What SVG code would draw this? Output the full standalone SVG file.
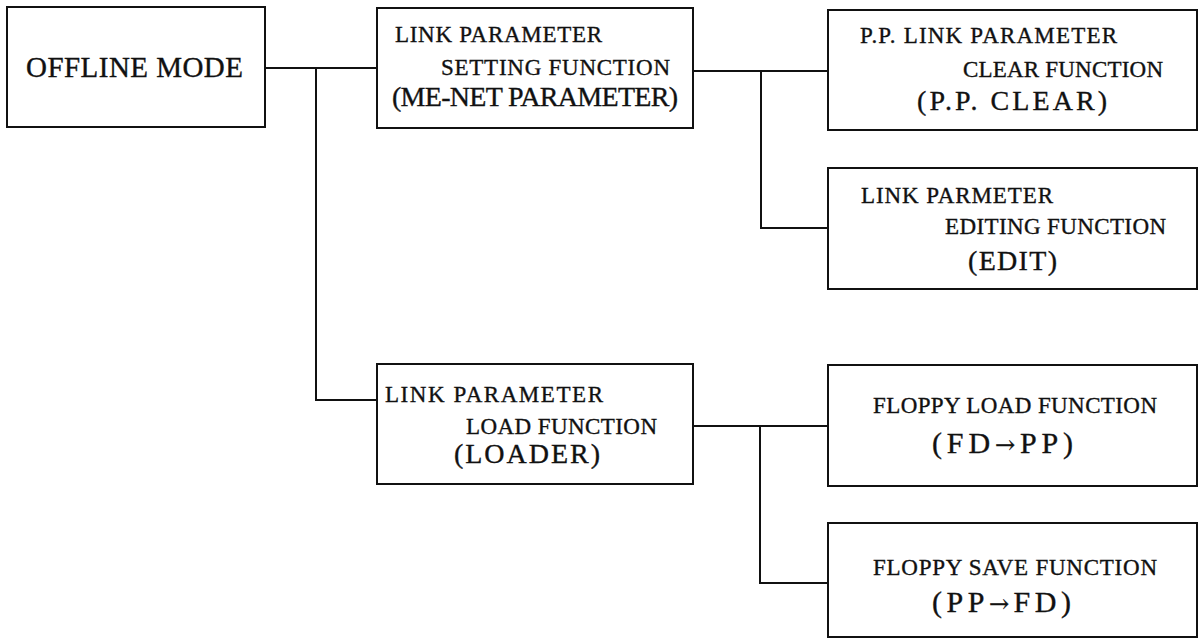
<svg xmlns="http://www.w3.org/2000/svg" width="1199" height="644" viewBox="0 0 1199 644">
  <style>
    .box { fill: #ffffff; stroke: #111111; stroke-width: 2; }
    .wire { fill: none; stroke: #111111; stroke-width: 2; }
    text { font-family: "Liberation Serif", "Times New Roman", serif; fill: #111111; stroke: #111111; stroke-width: 0.35; }
    .sm { font-size: 23px; }
    .lg { font-size: 28px; }
    .xl { font-size: 29px; }
    .arw { font-size: 30px; }
    .arrowglyph { font-family: "DejaVu Serif", "DejaVu Sans", serif; font-size: 24px; }
  </style>
  <rect width="1199" height="644" fill="#ffffff"/>

  <!-- connectors -->
  <g id="connectors">
    <path class="wire" d="M265,68 H377"/>
    <path class="wire" d="M316,68 V400 H377"/>
    <path class="wire" d="M693,71 H828"/>
    <path class="wire" d="M761,71 V228 H828"/>
    <path class="wire" d="M693,426 H828"/>
    <path class="wire" d="M760,426 V583 H828"/>
  </g>

  <g id="offline-mode">
    <rect class="box" x="7" y="7" width="258" height="120"/>
    <text class="xl" x="26" y="77" textLength="217" lengthAdjust="spacing">OFFLINE MODE</text>
  </g>

  <g id="link-param-setting">
    <rect class="box" x="377" y="8" width="316" height="120"/>
    <text class="sm" x="395" y="42" textLength="207" lengthAdjust="spacing">LINK PARAMETER</text>
    <text class="sm" x="441" y="75" textLength="229" lengthAdjust="spacing">SETTING FUNCTION</text>
    <text class="lg" x="392" y="106" textLength="286" lengthAdjust="spacing">(ME-NET PARAMETER)</text>
  </g>

  <g id="pp-clear">
    <rect class="box" x="828" y="10" width="369" height="120"/>
    <text class="sm" x="860" y="43" textLength="257" lengthAdjust="spacing">P.P. LINK PARAMETER</text>
    <text class="sm" x="963" y="77" textLength="200" lengthAdjust="spacing">CLEAR FUNCTION</text>
    <text class="lg" x="917" y="110" textLength="190" lengthAdjust="spacing">(P.P. CLEAR)</text>
  </g>

  <g id="edit">
    <rect class="box" x="828" y="168" width="369" height="121"/>
    <text class="sm" x="861" y="203" textLength="192" lengthAdjust="spacing">LINK PARMETER</text>
    <text class="sm" x="945" y="234" textLength="221" lengthAdjust="spacing">EDITING FUNCTION</text>
    <text class="lg" x="968" y="270" textLength="89" lengthAdjust="spacing">(EDIT)</text>
  </g>

  <g id="loader">
    <rect class="box" x="377" y="364" width="316" height="120"/>
    <text class="sm" x="385" y="402" textLength="218" lengthAdjust="spacing">LINK PARAMETER</text>
    <text class="sm" x="466" y="434" textLength="191" lengthAdjust="spacing">LOAD FUNCTION</text>
    <text class="lg" x="454" y="463" textLength="146" lengthAdjust="spacing">(LOADER)</text>
  </g>

  <g id="floppy-load">
    <rect class="box" x="828" y="365" width="369" height="121"/>
    <text class="sm" x="873" y="413" textLength="284" lengthAdjust="spacing">FLOPPY LOAD FUNCTION</text>
    <text class="arw" x="932" y="453" textLength="141" lengthAdjust="spacing">(FD<tspan class="arrowglyph">→</tspan>PP)</text>
  </g>

  <g id="floppy-save">
    <rect class="box" x="828" y="523" width="369" height="114"/>
    <text class="sm" x="873" y="575" textLength="284" lengthAdjust="spacing">FLOPPY SAVE FUNCTION</text>
    <text class="arw" x="932" y="612" textLength="139" lengthAdjust="spacing">(PP<tspan class="arrowglyph">→</tspan>FD)</text>
  </g>
</svg>
